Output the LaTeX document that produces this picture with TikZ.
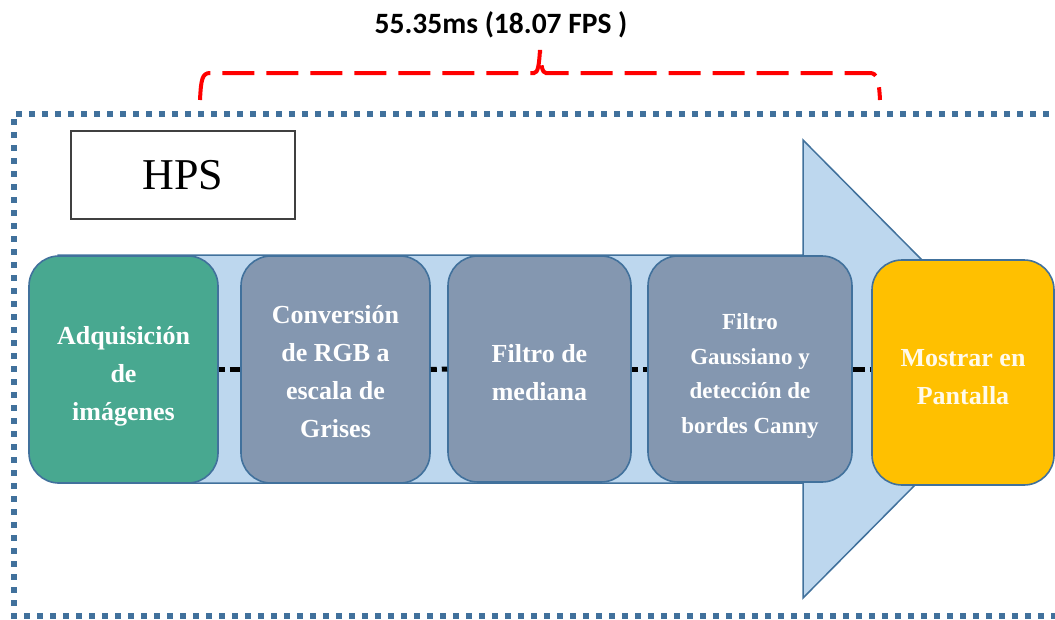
\documentclass[tikz,border=0pt]{standalone}
\usepackage{fontspec}
\setmainfont{Liberation Serif}
\newfontfamily\calib{Carlito}
\definecolor{frameblue}{HTML}{41719C}
\definecolor{arrowfill}{HTML}{BDD7EE}
\definecolor{greenbox}{HTML}{48A890}
\definecolor{graybox}{HTML}{8497B0}
\definecolor{orangebox}{HTML}{FFC000}
\definecolor{hpsline}{HTML}{404040}
\tikzset{
  stage/.style={draw=frameblue, line width=1.6pt, rounded corners=30pt, inner sep=0pt},
  stagetext/.style={align=center, text=white, inner sep=0pt,
    font=\bfseries\fontsize{26}{38}\selectfont},
  link/.style={line width=5pt, black, dash pattern=on 6pt off 5pt on 12pt off 5pt},
  timing/.style={red, line width=4pt, dash pattern=on 32pt off 12pt},
}
\begin{document}
\begin{tikzpicture}[x=1pt,y=-1pt]
\useasboundingbox (0,0) rectangle (1055,619);
\begin{scope}
\clip (0,0) rectangle (1055,619);
% dotted frame
\draw[frameblue, line width=6pt, dash pattern=on 6pt off 7pt] (1075,114) -- (14,114) -- (14,616) -- (1075,616);
% big arrow
\draw[draw=frameblue, fill=arrowfill, line width=1.5pt]
  (58,255) -- (803,255) -- (803,140) -- (1030,369) -- (803,598) -- (803,483) -- (58,483) -- cycle;
% HPS box
\node[draw=hpsline, line width=1.3pt, fill=white, minimum width=224pt, minimum height=88pt,
  font=\fontsize{44}{50}\selectfont] (hps) at (183,175) {HPS};
% stages
\node[stage, fill=greenbox, minimum width=189pt, minimum height=227pt] (b1) at (123.5,369.5) {};
\node[stage, fill=graybox, minimum width=189pt, minimum height=227pt] (b2) at (335.5,369.5) {};
\node[stage, fill=graybox, minimum width=183pt, minimum height=226pt] (b3) at (539.5,369) {};
\node[stage, fill=graybox, minimum width=204pt, minimum height=226pt] (b4) at (750,369) {};
\node[stage, fill=orangebox, minimum width=182pt, minimum height=225pt] (b5) at (963,372.5) {};
\node[stagetext, yshift=-7pt] (t1) at (b1.center) {Adquisición\\de\\imágenes};
\node[stagetext, yshift=-2pt] (t2) at (b2.center) {Conversión\\de RGB a\\escala de\\Grises};
\node[stagetext, yshift=-4pt] (t3) at (b3.center) {Filtro de\\mediana};
\node[stagetext, yshift=-7pt, font=\bfseries\fontsize{23}{34.5}\selectfont] (t4) at (b4.center)
  {Filtro\\Gaussiano y\\detección de\\bordes Canny};
\node[stagetext, yshift=-5pt, text=white!92!orangebox] (t5) at (b5.center) {Mostrar en\\Pantalla};
% connectors
\draw[link] (b1.east) -- (b2.west);
\draw[link] (b2.east) -- (b3.west);
\draw[link] (b3.east) -- (b4.west);
\draw[link, dash phase=11pt] (b4.east) -- (b4.east -| b5.west);
% timing bracket
\draw[timing] (200,100) .. controls (201,80) and (202,73) .. (210,73) -- (534,73)
  .. controls (538,73) and (539,65) .. (540,50) .. controls (541,65) and (542,73) .. (546,73)
  -- (870,73) .. controls (877,73) and (879,80) .. (880,100);
\node[anchor=base, inner sep=0pt, font=\calib\bfseries\fontsize{29.5}{33}\selectfont] (time) at (501,33)
  {55.35ms (18.07 FPS )};
\end{scope}
\end{tikzpicture}
\end{document}
